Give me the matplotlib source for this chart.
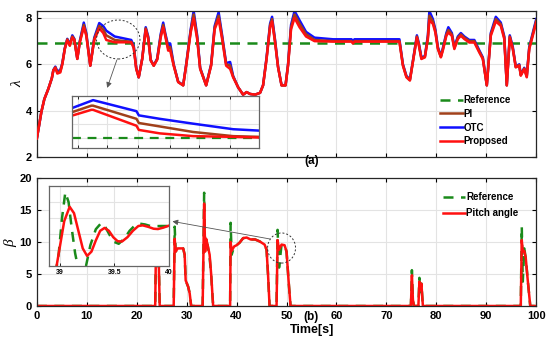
import matplotlib
matplotlib.use("Agg")
import matplotlib.pyplot as plt
from matplotlib.patches import Ellipse

plt.rcParams['font.family'] = ['Liberation Sans', 'DejaVu Sans']
plt.rcParams['font.weight'] = 'bold'

# ---- tip speed ratio (a) ----
t_lam = [0.0, 0.4, 0.9, 1.5, 2.3, 3.0, 3.3, 3.7, 4.1, 4.7, 5.1, 5.6, 6.1, 6.6, 7.1, 7.5,
         8.1, 8.6, 9.4, 9.9, 10.7, 11.5, 12.5, 13.3, 13.9, 15.6, 18.9, 19.4, 19.9, 20.4,
         21.1, 21.8, 22.3, 22.8, 23.4, 24.1, 24.8, 25.3, 25.7, 26.3, 26.7, 27.4, 28.3,
         29.3, 29.9, 30.8, 31.4, 32.1, 32.7, 33.9, 34.9, 35.6, 36.4, 37.1, 37.9, 38.7,
         39.3, 40.3, 41.3, 42.0, 42.7, 43.7, 44.7, 45.3, 46.0, 46.7, 47.1, 47.7, 48.3,
         49.0, 49.8, 50.3, 50.9, 51.6, 52.6, 53.9, 55.6, 59.3, 63.0, 63.3, 63.6, 72.6,
         73.3, 74.0, 74.7, 75.3, 76.1, 76.5, 77.0, 77.7, 78.3, 78.6, 79.3, 79.8, 80.3,
         80.9, 81.3, 82.0, 82.4, 83.1, 83.6, 84.3, 84.9, 85.6, 86.6, 87.6, 88.6, 89.3,
         90.1, 90.9, 91.9, 92.9, 93.6, 94.1, 94.7, 95.3, 95.9, 96.6, 96.9, 97.6, 98.1,
         98.6, 99.3, 100.0]
lam_proposed = [2.8, 3.3, 3.94, 4.5, 4.94, 5.4, 5.73, 5.85, 5.6, 5.65, 6.0, 6.66, 7.05, 6.8, 7.16, 7.05,
                6.23, 6.94, 7.6, 7.23, 5.94, 7.05, 7.55, 7.35, 7.05, 6.95, 6.95, 6.7, 5.8, 5.44,
                6.23, 7.5, 7.09, 6.16, 5.94, 6.2, 7.16, 7.6, 7.23, 6.59, 6.6, 5.94, 5.23,
                5.09, 5.94, 7.37, 7.98, 7.09, 5.8, 5.09, 5.94, 7.51, 7.95, 7.09, 5.94, 5.8,
                5.44, 5.01, 4.69, 4.8, 4.72, 4.69, 4.77, 5.09, 6.23, 7.6, 7.85, 6.94, 5.87,
                5.09, 5.09, 5.94, 7.51, 8.0, 7.6, 7.2, 7.0, 6.98, 6.98, 6.9, 6.98, 6.98,
                5.94, 5.44, 5.3, 6.1, 7.16, 6.8, 6.23, 6.3, 7.09, 7.9, 7.75, 7.37, 6.66,
                6.3, 6.6, 7.23, 7.37, 7.23, 6.66, 7.09, 7.23, 7.09, 6.94, 6.94, 6.51, 6.23,
                5.09, 7.23, 7.85, 7.66, 7.09, 5.09, 7.16, 6.66, 5.87, 5.94, 5.51, 5.8, 5.44,
                6.66, 7.23, 7.8]
lam_otc = [2.8, 3.3, 3.94, 4.5, 4.94, 5.4, 5.75, 5.9, 5.7, 5.75, 6.05, 6.7, 7.1, 6.85, 7.25, 7.1,
           6.25, 7.0, 7.8, 7.35, 5.95, 7.15, 7.78, 7.65, 7.45, 7.2, 7.05, 6.8, 5.85, 5.44,
           6.25, 7.6, 7.2, 6.2, 5.95, 6.25, 7.3, 7.8, 7.35, 6.8, 6.9, 6.0, 5.25,
           5.1, 6.0, 7.5, 8.3, 7.25, 5.85, 5.1, 6.0, 7.65, 8.25, 7.25, 6.05, 6.1,
           5.5, 5.01, 4.69, 4.8, 4.72, 4.69, 4.77, 5.1, 6.3, 7.75, 8.05, 7.05, 5.9,
           5.1, 5.1, 6.0, 7.7, 8.3, 7.9, 7.4, 7.15, 7.08, 7.08, 7.0, 7.08, 7.08,
           6.0, 5.5, 5.35, 6.15, 7.25, 6.9, 6.3, 6.35, 7.25, 8.3, 7.95, 7.5, 6.75,
           6.35, 6.7, 7.35, 7.6, 7.35, 6.75, 7.2, 7.35, 7.2, 7.05, 7.05, 6.6, 6.3,
           5.1, 7.35, 8.05, 7.8, 7.2, 5.1, 7.25, 6.75, 5.9, 6.0, 5.55, 5.85, 5.5,
           6.75, 7.35, 7.95]
lam_pi = [2.8, 3.3, 3.94, 4.5, 4.94, 5.4, 5.74, 5.87, 5.65, 5.7, 6.02, 6.68, 7.08, 6.82, 7.2, 7.08,
          6.24, 6.97, 7.7, 7.29, 5.94, 7.1, 7.66, 7.5, 7.25, 7.05, 6.97, 6.75, 5.82, 5.44,
          6.24, 7.55, 7.15, 6.18, 5.94, 6.22, 7.23, 7.7, 7.29, 6.7, 6.75, 5.97, 5.24,
          5.09, 5.97, 7.43, 8.15, 7.17, 5.82, 5.09, 5.97, 7.58, 8.1, 7.17, 6.0, 5.95,
          5.47, 5.01, 4.69, 4.8, 4.72, 4.69, 4.77, 5.09, 6.26, 7.68, 7.95, 7.0, 5.88,
          5.09, 5.09, 5.97, 7.6, 8.15, 7.75, 7.3, 7.05, 7.0, 7.0, 6.93, 7.0, 7.0,
          5.97, 5.47, 5.32, 6.12, 7.2, 6.85, 6.26, 6.32, 7.17, 8.1, 7.85, 7.43, 6.7,
          6.32, 6.65, 7.29, 7.48, 7.29, 6.7, 7.15, 7.29, 7.15, 7.0, 7.0, 6.55, 6.26,
          5.09, 7.29, 7.95, 7.73, 7.15, 5.09, 7.2, 6.7, 5.88, 5.97, 5.53, 5.82, 5.47,
          6.7, 7.29, 7.88]
lam_ref = 6.9

# zoomed detail of the circled region
t_zoom = [13.03, 13.67, 13.73, 15.24, 15.32, 16.05, 17.21, 18.6, 19.5]
zoom_otc = [7.33, 7.43, 7.44, 7.28, 7.22, 7.17, 7.10, 7.02, 7.00]
zoom_pi = [7.27, 7.36, 7.36, 7.17, 7.11, 7.06, 6.98, 6.92, 6.91]
zoom_proposed = [7.22, 7.30, 7.30, 7.07, 7.01, 6.96, 6.92, 6.91, 6.90]

# ---- pitch angle (b) ----
t_beta = [0, 23.7, 23.9, 24.1, 24.3, 24.6, 27.4, 27.6, 27.8, 28.2, 29.3, 29.6, 29.8, 30.3, 30.6,
          30.9, 33.2, 33.5, 33.7, 33.9, 34.2, 34.6, 34.9, 35.3, 38.7, 38.8, 39.0, 39.5,
          40.0, 40.6, 41.3, 42.0, 42.8, 43.7, 44.6, 45.6, 46.0, 46.3, 46.6, 48.0, 48.2,
          48.5, 49.0, 49.6, 50.0, 50.4, 50.8, 74.9, 75.1, 75.3, 75.5, 76.4, 76.6, 76.8,
          77.0, 77.3, 96.9, 97.1, 97.3, 97.6, 97.9, 98.3, 98.8, 100]
beta_pitch = [0, 0, 12, 9, 11, 0, 0, 10.5, 8.5, 9.0, 9.0, 8.0, 4.0, 3.0, 2.0,
              0, 0, 16.0, 8.5, 10.5, 9.5, 8.0, 5.0, 0, 0, 10.0, 8.6, 9.3,
              9.5, 9.9, 10.6, 10.7, 10.4, 10.4, 10.1, 9.6, 8.8, 4.8, 0, 0, 10.3,
              8.8, 9.6, 9.5, 8.5, 4.0, 0, 0, 4.8, 1.0, 0, 0, 3.8, 2.5,
              3.5, 0, 0, 10.3, 8.5, 8.6, 7.5, 4.0, 0, 0]
beta_ref = [0, 0, 13, 9, 11, 0, 0, 12.4, 8.5, 9.0, 9.0, 8.0, 4.0, 3.0, 2.0,
            0, 0, 17.7, 9.0, 10.0, 9.5, 7.5, 5.0, 0, 0, 13.0, 8.0, 9.3,
            9.5, 9.9, 10.6, 10.7, 10.4, 10.4, 10.1, 9.6, 8.8, 4.8, 0, 0, 11.9,
            6.0, 9.6, 9.5, 8.5, 4.0, 0, 0, 5.6, 1.0, 0, 0, 4.4, 2.0,
            3.5, 0, 0, 12.4, 3.8, 9.0, 7.5, 4.0, 0, 0]

t_bzoom = [38.97, 39.0, 39.04, 39.09, 39.13, 39.17, 39.21, 39.25, 39.29, 39.33, 39.37, 39.41,
           39.45, 39.49, 39.53, 39.57, 39.62, 39.67, 39.72, 39.76, 39.81, 39.86, 39.9, 39.95, 40.0]
bzoom_pitch = [7.0, 8.2, 9.8, 10.7, 10.3, 9.2, 8.1, 7.63, 7.9, 8.6, 9.2, 9.38,
               9.2, 8.8, 8.55, 8.53, 8.8, 9.2, 9.5, 9.54, 9.45, 9.33, 9.31, 9.4, 9.52]
t_bzoom_ref = [38.96, 38.99, 39.02, 39.05, 39.08, 39.11, 39.14, 39.17, 39.2, 39.24, 39.28, 39.33,
               39.38, 39.42, 39.46, 39.5, 39.54, 39.59, 39.64, 39.69, 39.73, 39.78, 39.83, 39.87,
               39.93, 40.0]
bzoom_ref = [6.5, 7.8, 10.0, 11.6, 11.0, 9.3, 7.8, 6.8, 6.5, 7.0, 8.3, 9.3,
             9.69, 9.4, 8.9, 8.5, 8.39, 8.7, 9.2, 9.55, 9.65, 9.6, 9.5, 9.49, 9.5, 9.5]

GREEN = '#1a8a1a'
BROWN = '#a0401a'
BLUE = '#1010ff'
RED = '#ff1010'


def style_axes(ax):
    ax.grid(True, color='#e3e3e3', linewidth=0.8)
    ax.set_axisbelow(True)
    ax.tick_params(direction='in', top=True, right=True, length=3, labelsize=8, width=0.8)
    for s in ax.spines.values():
        s.set_color('#262626')
        s.set_linewidth(0.9)


fig = plt.figure(figsize=(5.5, 3.44), dpi=100)

# (a)
ax1 = fig.add_axes([0.067, 0.5436, 0.908, 0.4244])
style_axes(ax1)
ax1.axhline(lam_ref, color=GREEN, lw=1.8, ls=(0, (4, 3)), label='Reference')
ax1.plot(t_lam, lam_pi, color=BROWN, lw=1.8, label='PI', zorder=3)
ax1.plot(t_lam, lam_otc, color=BLUE, lw=1.8, label='OTC', zorder=2)
ax1.plot(t_lam, lam_proposed, color=RED, lw=1.8, label='Proposed', zorder=4)
ax1.set_xlim(0, 100)
ax1.set_ylim(2, 8.3)
ax1.set_xticks(range(0, 101, 10))
ax1.set_xticklabels([])
ax1.set_yticks([2, 4, 6, 8])
ax1.legend(loc='upper left', bbox_to_anchor=(0.8, 0.45), frameon=False, fontsize=7,
           handlelength=2.3, handletextpad=0.1, labelspacing=0.38, borderaxespad=0)
ax1.add_patch(Ellipse((16.3, 7.07), 8.7, 1.68, fill=False, ls=(0, (2, 2)), lw=0.7,
                      color='#333333', zorder=5))
ax1.annotate('', xy=(13.9, 4.87), xytext=(16.2, 6.3),
             arrowprops=dict(arrowstyle='-|>', color='#555555', lw=0.6, mutation_scale=8))

ins1 = fig.add_axes([0.131, 0.570, 0.34, 0.151])
ins1.grid(True, color='#e3e3e3', linewidth=0.8)
ins1.axhline(lam_ref, color=GREEN, lw=1.6, ls=(0, (4, 3)))
ins1.plot(t_zoom, zoom_otc, color=BLUE, lw=1.8)
ins1.plot(t_zoom, zoom_pi, color=BROWN, lw=1.8)
ins1.plot(t_zoom, zoom_proposed, color=RED, lw=1.8)
ins1.set_xlim(13, 19.5)
ins1.set_ylim(6.75, 7.5)
ins1.set_xticks([13.2, 14.2, 15.3, 16.4, 17.4, 18.5])
ins1.set_yticks([6.9, 7.1, 7.3])
ins1.set_xticklabels([])
ins1.set_yticklabels([])
ins1.tick_params(direction='in', top=True, length=2, width=0.6, left=False)
for s in ins1.spines.values():
    s.set_color('#666666')
    s.set_linewidth(0.9)

fig.text(312 / 550, 1 - 161 / 344, '(a)', ha='center', va='center', fontsize=8.5, fontweight='bold')
fig.text(18 / 550, 1 - 84 / 344, 'λ', ha='center', va='center', fontsize=11,
         family='Liberation Serif', fontstyle='italic', fontweight='normal', rotation=90)

# (b)
ax2 = fig.add_axes([0.067, 0.1105, 0.908, 0.372])
style_axes(ax2)
ax2.plot(t_beta, beta_ref, color=GREEN, lw=1.8, ls=(0, (4, 3)), label='Reference')
ax2.plot(t_beta, beta_pitch, color=RED, lw=1.8, label='Pitch angle')
ax2.set_xlim(0, 100)
ax2.set_ylim(0, 20)
ax2.set_xticks(range(0, 101, 10))
ax2.set_yticks([0, 5, 10, 15, 20])
ax2.legend(loc='upper left', bbox_to_anchor=(0.805, 0.92), frameon=False, fontsize=7,
           handlelength=2.3, handletextpad=0.1, labelspacing=0.6, borderaxespad=0)
ax2.add_patch(Ellipse((49.0, 9.06), 5.6, 4.7, fill=False, ls=(0, (2, 2)), lw=0.7,
                      color='#333333', zorder=5))
ax2.annotate('', xy=(26.6, 13.3), xytext=(47.2, 10.4),
             arrowprops=dict(arrowstyle='-|>', color='#555555', lw=0.6, mutation_scale=8))

ins2 = fig.add_axes([0.089, 0.2267, 0.218, 0.2326])
ins2.grid(True, color='#e3e3e3', linewidth=0.8)
ins2.plot(t_bzoom_ref, bzoom_ref, color=GREEN, lw=1.8, ls=(0, (4, 3)))
ins2.plot(t_bzoom, bzoom_pitch, color=RED, lw=1.8)
ins2.set_xlim(38.9, 40.0)
ins2.set_ylim(7, 12)
ins2.set_xticks([39, 39.5, 40])
ins2.set_xticklabels(['39', '39.5', '40'])
ins2.set_yticks([8, 9, 10, 11])
ins2.set_yticklabels([])
ins2.tick_params(direction='in', length=2, width=0.6, labelsize=5, pad=2, left=False)
for s in ins2.spines.values():
    s.set_color('#666666')
    s.set_linewidth(0.9)

fig.text(311 / 550, 1 - 317 / 344, '(b)', ha='center', va='center', fontsize=8.5, fontweight='bold')
fig.text(312 / 550, 1 - 330 / 344, 'Time[s]', ha='center', va='center', fontsize=9,
         fontweight='bold')
fig.text(11 / 550, 1 - 243 / 344, 'β', ha='center', va='center', fontsize=11,
         family='Liberation Serif', fontstyle='italic', fontweight='normal', rotation=90)

fig.savefig('out.png', dpi=100)
